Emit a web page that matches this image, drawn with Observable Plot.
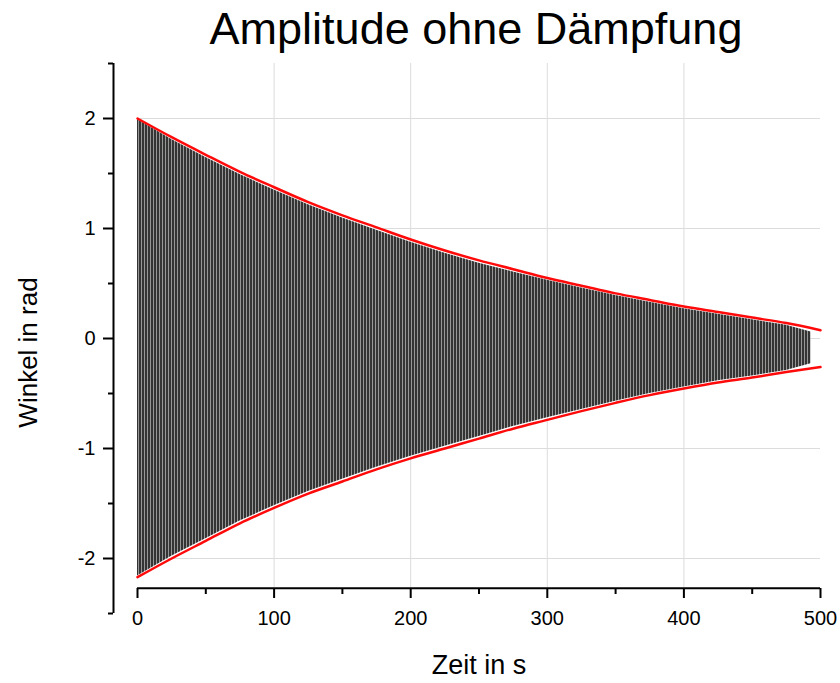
<!DOCTYPE html>
<html>
<head>
<meta charset="utf-8">
<script src="https://cdn.jsdelivr.net/npm/d3@7"></script>
<script src="https://cdn.jsdelivr.net/npm/@observablehq/plot@0.6"></script>
<style>
  html, body { margin: 0; padding: 0; background: white; }
  #chart { width: 840px; height: 683px; }
</style>
</head>
<body>
<div id="chart"></div>
<script>
// Envelope (red)
const envTime  = [0, 25, 50, 75, 100, 125, 150, 175, 200, 225, 250, 275, 300, 325, 350, 375, 400, 425, 450, 475, 500];
const envUpper = [2.00, 1.83, 1.67, 1.515, 1.375, 1.24, 1.12, 1.01, 0.90, 0.80, 0.71, 0.63, 0.55, 0.48, 0.41, 0.35, 0.29, 0.24, 0.19, 0.14, 0.075];
const envLower = [-2.17, -2.00, -1.84, -1.68, -1.54, -1.41, -1.30, -1.19, -1.09, -1.00, -0.91, -0.82, -0.74, -0.66, -0.585, -0.515, -0.455, -0.40, -0.355, -0.305, -0.26];

// Oscillation band (black) extent
const sigTime  = [0, 25, 50, 75, 100, 125, 150, 175, 200, 225, 250, 275, 300, 325, 350, 375, 400, 425, 450, 475, 493];
const sigUpper = [1.99, 1.81, 1.645, 1.49, 1.35, 1.215, 1.095, 0.985, 0.875, 0.775, 0.685, 0.605, 0.53, 0.46, 0.39, 0.33, 0.27, 0.22, 0.17, 0.12, 0.06];
const sigLower = [-2.16, -1.98, -1.82, -1.66, -1.52, -1.39, -1.28, -1.17, -1.07, -0.98, -0.89, -0.80, -0.72, -0.645, -0.57, -0.50, -0.44, -0.385, -0.34, -0.29, -0.23];

// Ticks
const xTicks = [0, 100, 200, 300, 400, 500];
const xMinor = [50, 150, 250, 350, 450];
const xGrid  = [100, 200, 300, 400];
const yTicks = [-2, -1, 0, 1, 2];
const yMinor = [-2.5, -1.5, -0.5, 0.5, 1.5, 2.5];

const title = "Amplitude ohne Dämpfung";
const xLabel = "Zeit in s";
const yLabel = "Winkel in rad";

const envelope = envTime.map((t, i) => ({t, hi: envUpper[i], lo: envLower[i]}));
const signal = sigTime.map((t, i) => ({t, hi: sigUpper[i], lo: sigLower[i]}));

const xAxisAt = -2.27;   // vertical position of the offset x axis
const yAxisOffset = -24; // horizontal offset of the y axis (px)
const gridColor = "#dcdcdc";

const chart = Plot.plot({
  width: 840,
  height: 683,
  marginLeft: 137,
  marginRight: 20,
  marginTop: 63,
  marginBottom: 70,
  x: {domain: [0, 500]},
  y: {domain: [-2.5, 2.5]},
  style: {fontFamily: "'Liberation Sans', Arial, sans-serif", background: "white", color: "black"},
  marks: [
    Plot.ruleY(yTicks, {x1: 0, x2: 500, stroke: gridColor, strokeWidth: 1}),
    Plot.ruleX(xGrid, {y1: xAxisAt, y2: 2.5, stroke: gridColor, strokeWidth: 1}),
    Plot.areaY(signal, {x: "t", y1: "lo", y2: "hi", fill: "url(#stripes)"}),
    Plot.line(envelope, {x: "t", y: "hi", stroke: "#ff0a0a", strokeWidth: 2.5, curve: "monotone-x"}),
    Plot.line(envelope, {x: "t", y: "lo", stroke: "#ff0a0a", strokeWidth: 2.5, curve: "monotone-x"}),
    // y axis
    Plot.ruleX([0], {y1: -2.5, y2: 2.5, dx: yAxisOffset, stroke: "black", strokeWidth: 2}),
    Plot.axisY(yTicks, {anchor: "left", dx: yAxisOffset, tickSize: 10, tickPadding: 8, fontSize: 20, strokeWidth: 2, tickFormat: d => String(d), label: null}),
    Plot.axisY(yMinor, {anchor: "left", dx: yAxisOffset, tickSize: 5, strokeWidth: 2, text: null, label: null}),
    // x axis
    Plot.ruleY([xAxisAt], {x1: 0, x2: 500, stroke: "black", strokeWidth: 2}),
    Plot.axisX(xTicks, {anchor: "bottom", dy: -25, tickSize: 10, tickPadding: 12, fontSize: 20, strokeWidth: 2, label: null}),
    Plot.axisX(xMinor, {anchor: "bottom", dy: -25, tickSize: 6, strokeWidth: 2, text: null, label: null}),
    // labels
    Plot.text([title], {frameAnchor: "top", dx: -3, dy: -20, lineAnchor: "bottom", fontSize: 45, fill: "black"}),
    Plot.text([xLabel], {frameAnchor: "bottom", dy: 52, lineAnchor: "middle", fontSize: 27, fill: "black"}),
    Plot.text([yLabel], {frameAnchor: "left", dx: -109, dy: 14, rotate: -90, textAnchor: "middle", lineAnchor: "middle", fontSize: 26, fill: "black"})
  ]
});

const svg = chart.tagName.toLowerCase() === "svg" ? chart : chart.querySelector("svg");
const defs = d3.select(svg).insert("defs", ":first-child");
const pat = defs.append("pattern")
  .attr("id", "stripes")
  .attr("patternUnits", "userSpaceOnUse")
  .attr("width", 3)
  .attr("height", 6);
pat.append("rect").attr("width", 3).attr("height", 6).attr("fill", "#343434");
pat.append("rect").attr("x", 0).attr("width", 1).attr("height", 6).attr("fill", "#979797");

document.getElementById("chart").appendChild(chart);
</script>
</body>
</html>
